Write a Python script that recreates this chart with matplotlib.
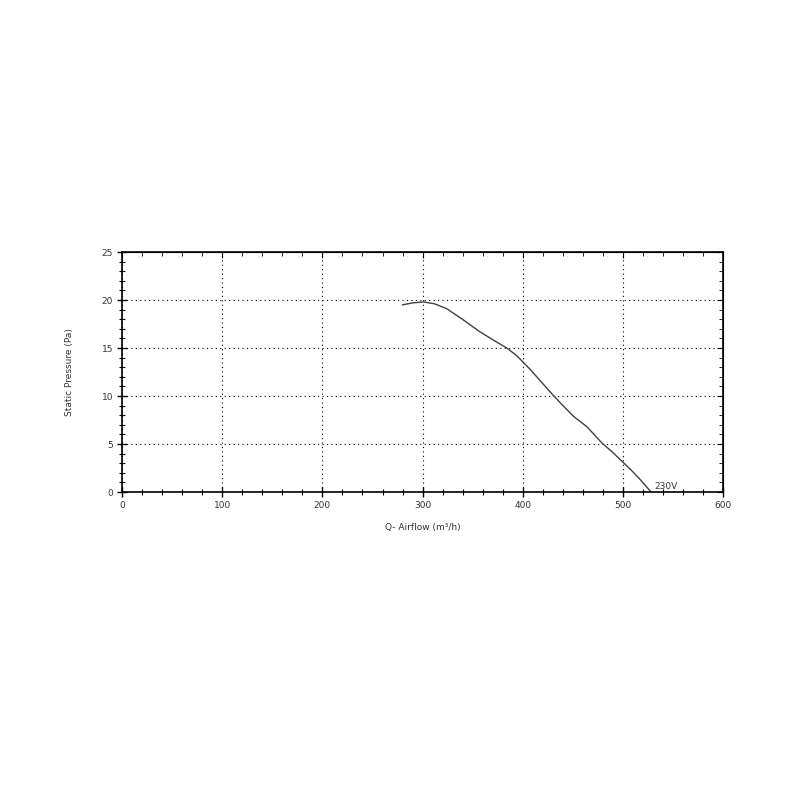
import matplotlib
matplotlib.use("Agg")
import matplotlib.pyplot as plt
from matplotlib.ticker import MultipleLocator

# fan curve (airflow m3/h, static pressure Pa)
airflow = [280, 290, 301, 312, 324, 341, 357, 371, 384, 394, 408, 419, 431, 441, 451, 464, 479, 489, 498, 508, 518, 528]
pressure = [19.5, 19.7, 19.8, 19.6, 19.1, 17.9, 16.7, 15.8, 15.0, 14.2, 12.7, 11.4, 10.0, 8.9, 7.85, 6.8, 5.1, 4.2, 3.3, 2.3, 1.2, 0.0]
curve_label = "230V"

x_ticks = [0, 100, 200, 300, 400, 500, 600]
y_ticks = [0, 5, 10, 15, 20, 25]

fig = plt.figure(figsize=(8, 8), dpi=100)
ax = fig.add_axes([0.1525, 0.385, 0.7515, 0.3])

ax.plot(airflow, pressure, color="#404040", lw=1.0)
ax.text(airflow[-1] + 3, 0.35, curve_label, fontsize=6.5, color="#333333")

ax.set_xlim(0, 600)
ax.set_ylim(0, 25)
ax.set_xticks(x_ticks)
ax.set_yticks(y_ticks)
ax.xaxis.set_minor_locator(MultipleLocator(20))
ax.yaxis.set_minor_locator(MultipleLocator(1))
ax.grid(True, which="major", color="black", linestyle=(0, (1, 3)), lw=0.8)

ax.tick_params(which="major", direction="inout", length=7, width=1, labelsize=6.5,
               labelcolor="#333333", pad=3)
ax.tick_params(which="minor", direction="inout", length=5, width=0.8)
for s in ax.spines.values():
    s.set_linewidth(1.2)

# inward ticks on top and right edges
top = ax.secondary_xaxis("top")
top.set_xticks(x_ticks)
top.xaxis.set_minor_locator(MultipleLocator(20))
top.tick_params(which="major", direction="in", length=4, labeltop=False)
top.tick_params(which="minor", direction="in", length=3)
right = ax.secondary_yaxis("right")
right.set_yticks(y_ticks)
right.yaxis.set_minor_locator(MultipleLocator(1))
right.tick_params(which="major", direction="in", length=4, labelright=False)
right.tick_params(which="minor", direction="in", length=3)

ax.set_xlabel("Q- Airflow (m³/h)", fontsize=6.5, color="#333333", labelpad=9)
ax.set_ylabel("Static Pressure (Pa)", fontsize=6.5, color="#333333", labelpad=20)

fig.savefig("out.png", dpi=100)
